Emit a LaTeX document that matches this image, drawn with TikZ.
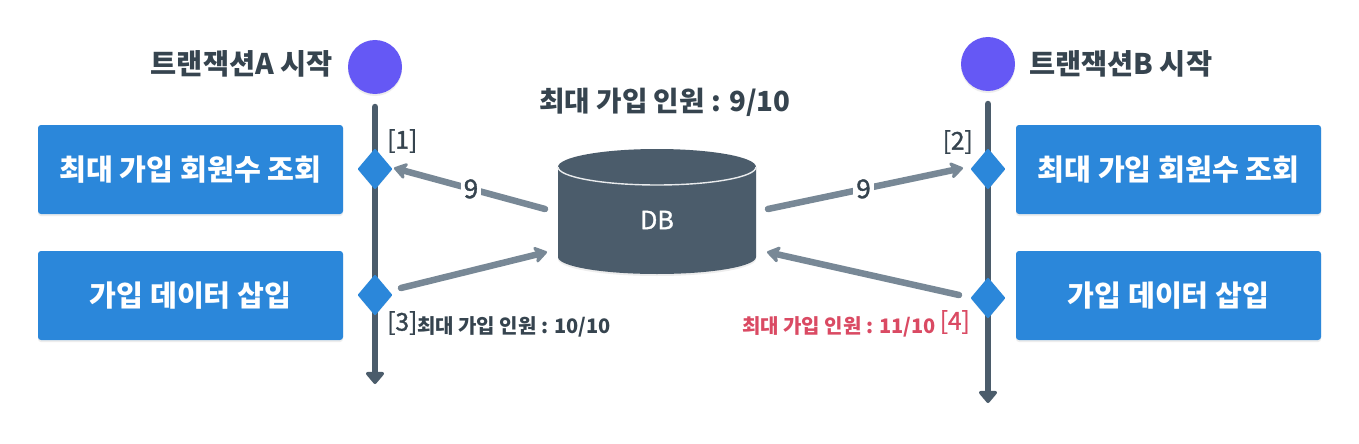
\documentclass[tikz,border=0pt]{standalone}
\usepackage{fontspec}
\setmainfont{Noto Sans CJK KR}
\newfontfamily\medkr[FakeBold=1.3]{Noto Sans CJK KR}
\usetikzlibrary{arrows.meta,shapes.geometric,shadows}
\definecolor{boxblue}{HTML}{2B87DA}
\definecolor{startp}{HTML}{6558F5}
\definecolor{lane}{HTML}{4B5C6B}
\definecolor{conn}{HTML}{788896}
\definecolor{ink}{HTML}{36444F}
\definecolor{alert}{HTML}{DA4A63}
\newcommand{\uptext}[1]{\raisebox{1.5pt}{#1}}
\tikzset{
  softshadow/.style={drop shadow={opacity=.14,shadow xshift=0pt,shadow yshift=-2pt}},
  taskbox/.style={rectangle,rounded corners=3pt,fill=boxblue,text=white,minimum width=305pt,minimum height=89pt,inner sep=0pt,softshadow,font=\fontsize{29.2}{32}\selectfont\bfseries},
  startdot/.style={circle,fill=startp,minimum size=54pt,inner sep=0pt,softshadow},
  gate/.style={diamond,fill=boxblue,draw=boxblue,line width=2pt,line join=round,minimum width=33pt,minimum height=39pt,inner sep=0pt,softshadow},
  lanearrow/.style={draw=lane,line width=6.5pt,line cap=round,-{Triangle[width=21pt,length=13pt,round]}},
  flow/.style={draw=conn,line width=6.5pt,line cap=round,-{Stealth[length=15pt,width=20pt,inset=4pt,round]}},
  title/.style={text=ink,font=\fontsize{28.4}{31}\selectfont\bfseries,inner sep=0pt},
  captitle/.style={text=ink,font=\fontsize{27.7}{31}\selectfont\bfseries,inner sep=0pt},
  tag/.style={text=ink,font=\medkr\fontsize{24.5}{27}\selectfont,inner sep=0pt},
  note/.style={font=\fontsize{20}{23}\selectfont\bfseries,inner sep=0pt},
  flowlabel/.style={fill=white,text=ink,font=\medkr\fontsize{26}{29}\selectfont,inner sep=3pt},
}
\begin{document}
\begin{tikzpicture}[x=1pt,y=-1pt]
\path[use as bounding box,fill=white] (0,0) rectangle (1359,444);
% lanes
\coordinate (laTop) at (375,107);
\coordinate (laEnd) at (375,384);
\coordinate (lbTop) at (988,104);
\coordinate (lbEnd) at (988,403);
\path[lanearrow] (laTop) -- (laEnd);
\path[lanearrow] (lbTop) -- (lbEnd);
% start
\node[startdot] (startA) at (375,67) {};
\node[startdot] (startB) at (988,64) {};
\node[title,anchor=east] (titleA) at (333,64) {트랜잭션A 시작};
\node[title,anchor=west] (titleB) at (1029,63.5) {트랜잭션B 시작};
% boxes
\node[taskbox] (a1) at (190.5,169.5) {\uptext{최대 가입 회원수 조회}};
\node[taskbox] (a2) at (190.5,295.5) {\uptext{가입 데이터 삽입}};
\node[taskbox] (b1) at (1168.5,169.5) {\uptext{최대 가입 회원수 조회}};
\node[taskbox] (b2) at (1168.5,295.5) {\uptext{가입 데이터 삽입}};
% gates
\node[gate] (ga1) at (375,169) {};
\node[gate] (ga2) at (375,295) {};
\node[gate] (gb1) at (988,169) {};
\node[gate] (gb2) at (988,298) {};
% database
\path[fill=lane,softshadow] (558,167) arc[start angle=180,end angle=0,x radius=99pt,y radius=18pt]
  -- (756,257) arc[start angle=0,end angle=-180,x radius=99pt,y radius=17pt] -- cycle;
\draw[draw=white!88!lane,line width=1.4pt] (558,167) arc[start angle=180,end angle=360,x radius=99pt,y radius=18pt];
\node[text=white,font=\medkr\fontsize{25}{27}\selectfont,inner sep=0pt] (db) at (657,220) {DB};
\node[captitle] (cap) at (665,102) {최대 가입 인원 : 9/10};
% connector ends
\coordinate (dbOutA) at (545,209);
\coordinate (dbInA) at (547,252);
\coordinate (dbOutB) at (768,209);
\coordinate (dbInB) at (767,252);
\coordinate (gaOut) at (394,168);
\coordinate (gaIn) at (401,288);
\coordinate (gbIn) at (963,168);
\coordinate (gbOut) at (959,295);
\path[flow] (dbOutA) -- node[flowlabel,pos=.49] (nineA) {9} (gaOut);
\path[flow] (dbOutB) -- node[flowlabel,pos=.49] (nineB) {9} (gbIn);
\path[flow] (gaIn) -- (dbInA);
\path[flow] (gbOut) -- (dbInB);
% labels
\node[tag,anchor=west] (t1) at (387,141) {[1]};
\node[tag,anchor=east] (t2) at (973,142) {[2]};
\node[tag,anchor=west] (t3) at (387,323) {[3]};
\node[note,text=ink,anchor=west] (n3) at (417,326.5) {최대 가입 인원 : 10/10};
\node[note,text=alert,anchor=west] (n4) at (742,326.5) {최대 가입 인원 : 11/10};
\node[tag,text=alert,anchor=east] (t4) at (970,322) {[4]};
\end{tikzpicture}
\end{document}
